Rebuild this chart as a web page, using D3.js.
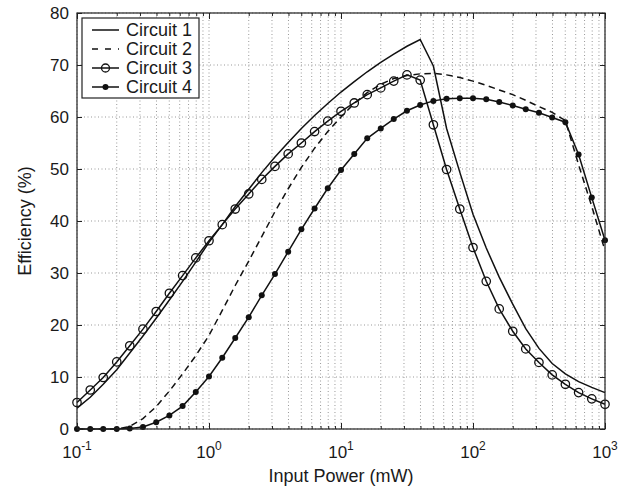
<!DOCTYPE html>
<html lang="en">
<head>
<meta charset="UTF-8">
<title>Efficiency vs Input Power</title>
<script src="https://cdn.jsdelivr.net/npm/d3@7"></script>
<style>
  body { margin: 0; background: #fff; }
  text { font-family: 'Liberation Sans', Arial, Helvetica, sans-serif; fill: #1a1a1a; }
</style>
</head>
<body>
<script>
// input power grid (mW), 10 points per decade
const inputPower = [0.1, 0.126, 0.158, 0.2, 0.251, 0.316, 0.398, 0.501, 0.631, 0.794,
    1, 1.26, 1.58, 2, 2.51, 3.16, 3.98, 5.01, 6.31, 7.94,
    10, 12.6, 15.8, 20, 25.1, 31.6, 39.8, 50.1, 63.1, 79.4,
    100, 126, 158, 200, 251, 316, 398, 501, 631, 794, 1000];

const circuit1 = [4.0, 6.1, 8.6, 11.4, 14.6, 17.9, 21.3, 24.8, 28.4, 32.1,
    35.9, 39.3, 42.8, 46.1, 49.3, 52.3, 55.1, 57.8, 60.3, 62.6,
    64.8, 66.8, 68.7, 70.5, 72.1, 73.6, 74.9, 69.8, 57.8, 49.4,
    41.3, 34.8, 29.2, 24.0, 19.3, 15.5, 12.6, 10.6, 9.1, 8.0, 7.0];

const circuit2 = [0, 0, 0, 0, 0.5, 2.0, 4.3, 7.3, 10.6, 14.1,
    18.0, 22.8, 27.6, 32.3, 37.0, 41.8, 46.2, 50.3, 54.0, 57.2,
    60.0, 62.6, 64.7, 66.3, 67.4, 68.0, 68.3, 68.4, 68.1, 67.6,
    66.9, 66.1, 65.2, 64.3, 63.2, 62.0, 60.9, 59.3, 50.8, 42.8, 34.3];

const circuit3 = [5.1, 7.5, 9.9, 12.9, 16.0, 19.2, 22.6, 26.1, 29.5, 32.9,
    36.2, 39.3, 42.3, 45.2, 48.0, 50.5, 52.9, 55.0, 57.2, 59.2,
    61.1, 62.7, 64.3, 65.6, 66.9, 68.1, 67.1, 58.5, 49.9, 42.3,
    34.9, 28.4, 23.1, 18.8, 15.4, 12.8, 10.4, 8.6, 7.0, 5.8, 4.75];

const circuit4 = [0, 0, 0, 0, 0.1, 0.4, 1.3, 2.6, 4.4, 7.1,
    10.1, 13.7, 17.5, 21.5, 25.7, 29.8, 34.1, 38.4, 42.4, 46.3,
    49.8, 52.9, 55.9, 57.8, 59.6, 61.2, 62.3, 63.1, 63.5, 63.6,
    63.6, 63.4, 62.9, 62.2, 61.5, 60.8, 59.9, 59.0, 52.8, 44.5, 36.3];

const seriesNames = ['Circuit 1', 'Circuit 2', 'Circuit 3', 'Circuit 4'];
const xTickExps = [-1, 0, 1, 2, 3];
const yTicks = [0, 10, 20, 30, 40, 50, 60, 70, 80];

const series = [
    { name: seriesNames[0], values: circuit1, dash: null, marker: null },
    { name: seriesNames[1], values: circuit2, dash: '6.5,4.5', marker: null },
    { name: seriesNames[2], values: circuit3, dash: null, marker: 'open' },
    { name: seriesNames[3], values: circuit4, dash: null, marker: 'dot' }
];

const margin = { top: 13, right: 24, bottom: 60, left: 77 };
const width = 629 - margin.left - margin.right;
const height = 489 - margin.top - margin.bottom;

const svg = d3.select('body')
    .append('svg')
    .attr('width', 629)
    .attr('height', 489)
    .append('g')
    .attr('transform', `translate(${margin.left},${margin.top})`);

const xScale = d3.scaleLog().domain([0.1, 1000]).range([0, width]);
const yScale = d3.scaleLinear().domain([0, 80]).range([height, 0]);

const majorX = xTickExps.map(e => Math.pow(10, e));
const allX = xScale.ticks(); // 1..9 x each decade

// dotted grid
svg.append('g')
    .selectAll('line')
    .data(allX)
    .enter().append('line')
    .attr('x1', d => xScale(d)).attr('x2', d => xScale(d))
    .attr('y1', 0).attr('y2', height)
    .attr('stroke', '#999')
    .attr('stroke-width', 1)
    .attr('stroke-dasharray', '1,2.5');

svg.append('g')
    .selectAll('line')
    .data(yTicks)
    .enter().append('line')
    .attr('x1', 0).attr('x2', width)
    .attr('y1', d => yScale(d)).attr('y2', d => yScale(d))
    .attr('stroke', '#999')
    .attr('stroke-width', 1)
    .attr('stroke-dasharray', '1,2.5');

// curves
const line = d3.line()
    .x((d, i) => xScale(inputPower[i]))
    .y(d => yScale(d));

series.forEach(s => {
    svg.append('path')
        .datum(s.values)
        .attr('d', line)
        .attr('fill', 'none')
        .attr('stroke', '#111')
        .attr('stroke-width', 1.5)
        .attr('stroke-dasharray', s.dash);

    if (s.marker === 'open') {
        svg.append('g').selectAll('circle')
            .data(s.values)
            .enter().append('circle')
            .attr('cx', (d, i) => xScale(inputPower[i]))
            .attr('cy', d => yScale(d))
            .attr('r', 4.2)
            .attr('fill', 'none')
            .attr('stroke', '#111')
            .attr('stroke-width', 1.3);
    } else if (s.marker === 'dot') {
        svg.append('g').selectAll('circle')
            .data(s.values)
            .enter().append('circle')
            .attr('cx', (d, i) => xScale(inputPower[i]))
            .attr('cy', d => yScale(d))
            .attr('r', 3)
            .attr('fill', '#111');
    }
});

// axes: inward ticks on all four sides
function styleAxis(g) {
    g.select('.domain').remove();
    g.selectAll('.tick line').attr('stroke', '#222');
}

const noLabel = () => '';
svg.append('g')
    .attr('transform', `translate(0,${height})`)
    .call(d3.axisBottom(xScale).tickValues(allX).tickSize(-3).tickFormat(noLabel))
    .call(styleAxis);
svg.append('g')
    .call(d3.axisTop(xScale).tickValues(allX).tickSize(-3).tickFormat(noLabel))
    .call(styleAxis);
svg.append('g')
    .attr('transform', `translate(0,${height})`)
    .call(d3.axisBottom(xScale).tickValues(majorX).tickSize(-6).tickFormat(noLabel))
    .call(styleAxis);
svg.append('g')
    .call(d3.axisTop(xScale).tickValues(majorX).tickSize(-6).tickFormat(noLabel))
    .call(styleAxis);

const yLeft = svg.append('g')
    .call(d3.axisLeft(yScale).tickValues(yTicks).tickSize(-5).tickPadding(8))
    .call(styleAxis);
yLeft.selectAll('.tick text')
    .attr('font-size', 17)
    .style('font-family', "'Liberation Sans', Arial, sans-serif")
    .attr('fill', '#1a1a1a');

svg.append('g')
    .attr('transform', `translate(${width},0)`)
    .call(d3.axisRight(yScale).tickValues(yTicks).tickSize(-5).tickFormat(noLabel))
    .call(styleAxis);

// x tick labels 10^n
const xLabels = svg.append('g')
    .selectAll('text')
    .data(xTickExps)
    .enter().append('text')
    .attr('x', d => xScale(Math.pow(10, d)))
    .attr('y', height + 29)
    .attr('text-anchor', 'middle')
    .attr('font-size', 17);
xLabels.append('tspan').text('10');
xLabels.append('tspan')
    .attr('dy', -8)
    .attr('font-size', 12)
    .text(d => d);

// frame
svg.append('rect')
    .attr('width', width)
    .attr('height', height)
    .attr('fill', 'none')
    .attr('stroke', '#222')
    .attr('stroke-width', 1.2);

// axis labels
svg.append('text')
    .attr('x', width / 2)
    .attr('y', height + 53)
    .attr('text-anchor', 'middle')
    .attr('font-size', 18)
    .text('Input Power (mW)');

svg.append('text')
    .attr('transform', 'rotate(-90)')
    .attr('x', -height / 2)
    .attr('y', -margin.left + 31)
    .attr('text-anchor', 'middle')
    .attr('font-size', 18)
    .text('Efficiency (%)');

// legend
const legend = svg.append('g')
    .attr('transform', 'translate(5,5)');

legend.append('rect')
    .attr('width', 117)
    .attr('height', 80)
    .attr('fill', '#fff')
    .attr('stroke', '#222')
    .attr('stroke-width', 1.2);

const item = legend.selectAll('.legend-item')
    .data(series)
    .enter().append('g')
    .attr('class', 'legend-item')
    .attr('transform', (d, i) => `translate(0,${12 + i * 19})`);

item.append('line')
    .attr('x1', 10).attr('x2', 37)
    .attr('y1', 0).attr('y2', 0)
    .attr('stroke', '#111')
    .attr('stroke-width', 1.5)
    .attr('stroke-dasharray', d => d.dash ? '6,7' : null);

item.filter(d => d.marker === 'open').append('circle')
    .attr('cx', 23.5).attr('cy', 0).attr('r', 4)
    .attr('fill', 'none').attr('stroke', '#111').attr('stroke-width', 1.3);

item.filter(d => d.marker === 'dot').append('circle')
    .attr('cx', 23.5).attr('cy', 0).attr('r', 3)
    .attr('fill', '#111');

item.append('text')
    .attr('x', 44)
    .attr('y', 6)
    .attr('font-size', 18)
    .text(d => d.name);
</script>
</body>
</html>
